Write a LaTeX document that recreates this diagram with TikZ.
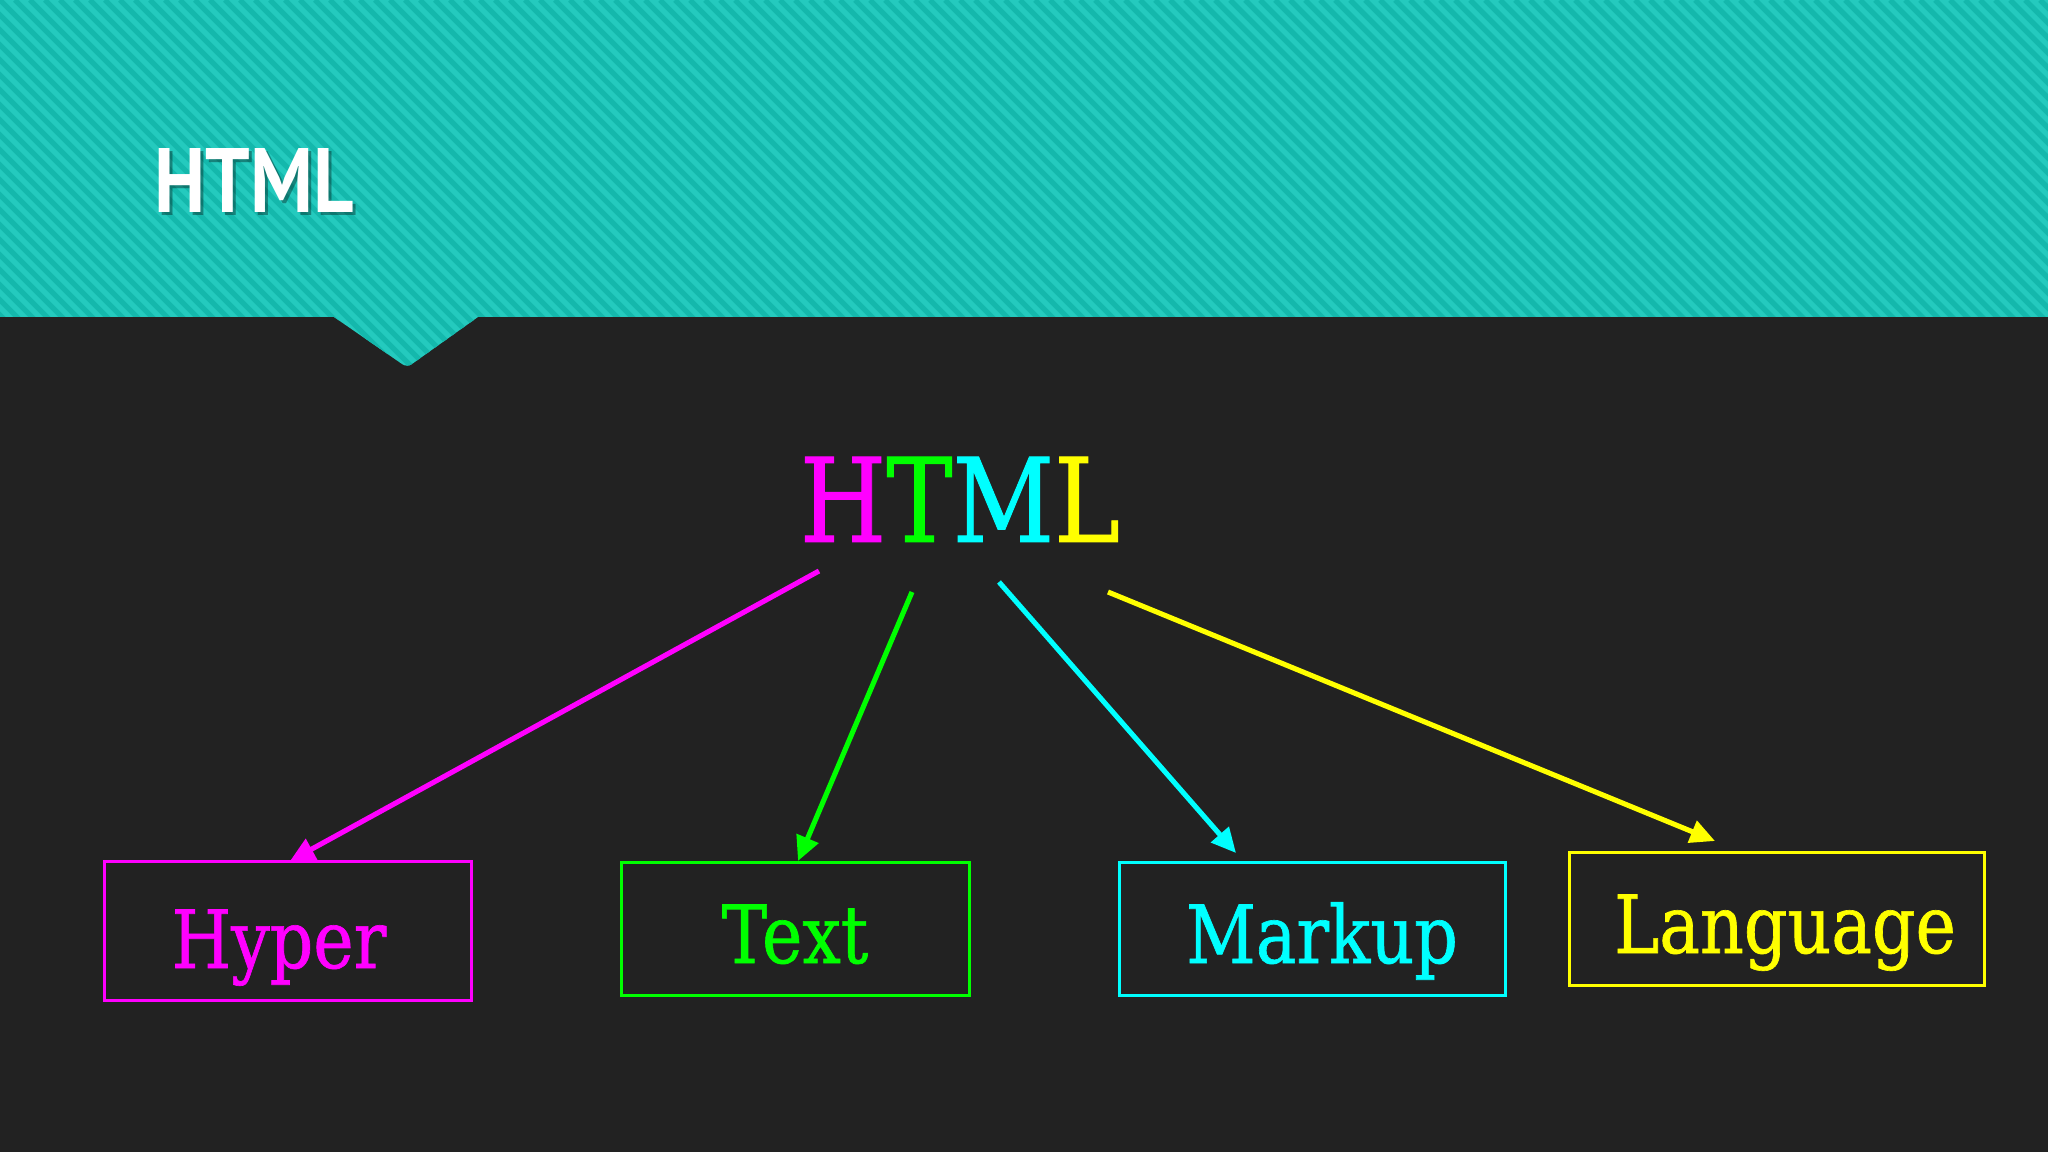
\documentclass[tikz,border=0pt]{standalone}
\usepackage{fontspec}
\setmainfont{DejaVu Serif}[FakeStretch=0.85,FakeBold=0.8]
\newfontfamily\titlefont{PT Sans}[FakeStretch=0.86]
\usetikzlibrary{arrows.meta,calc}
\definecolor{bg}{HTML}{222222}
\definecolor{teal1}{HTML}{24CABE}
\definecolor{teal2}{HTML}{14B8AC}
\definecolor{cmag}{HTML}{FF00FF}
\definecolor{cgrn}{HTML}{00FF00}
\definecolor{ccyn}{HTML}{00FFFF}
\definecolor{cyel}{HTML}{FFFF00}
\tikzset{
  wordbox/.style={draw=#1, line width=0.85pt, rectangle, inner sep=0pt},
  word/.style={text=#1, font=\fontsize{22.8}{26}\selectfont, anchor=base, inner sep=0pt},
  conn/.style={draw=#1, line width=1.45pt, -{Triangle[length=7pt,width=6.5pt]}, shorten >=0pt},
}
\begin{document}
\begin{tikzpicture}[x=0.01cm,y=-0.01cm]
\useasboundingbox (0,0) rectangle (2048,1152);
\fill[bg] (0,0) rectangle (2048,1152);
% header
\path[fill=teal1] (0,0) -- (2048,0) -- (2048,317) -- (478,317) -- (412,364) to[out=215,in=325] (402,364) -- (334,317) -- (0,317) -- cycle;
\begin{scope}
\clip (0,0) -- (2048,0) -- (2048,317) -- (478,317) -- (412,364) to[out=215,in=325] (402,364) -- (334,317) -- (0,317) -- cycle;
\foreach \i in {-420,-405,...,2060} {
  \draw[teal2, line width=1.5pt] (\i,0) -- (\i+420,420);
}
\end{scope}
% title
\node[anchor=base west, inner sep=0pt, text=black, opacity=0.35, font=\titlefont\bfseries\fontsize{26}{28}\selectfont] (titleshadow) at (157,216) {HTML};
\node[anchor=base west, inner sep=0pt, text=white, font=\titlefont\bfseries\fontsize{26}{28}\selectfont] (title) at (154,213) {HTML};
% big word
\node[anchor=base, inner sep=0pt, font=\fontsize{33.2}{36}\selectfont] (big) at (960,542) {\textcolor{cmag}{H}\textcolor{cgrn}{T}\textcolor{ccyn}{M}\textcolor{cyel}{L}};
% boxes
\node[wordbox=cmag, minimum width=3.66cm, minimum height=1.38cm] (hbox) at (288,931) {};
\node[wordbox=cgrn, minimum width=3.47cm, minimum height=1.33cm] (tbox) at (795.5,929) {};
\node[wordbox=ccyn, minimum width=3.85cm, minimum height=1.33cm] (mbox) at (1312.5,929) {};
\node[wordbox=cyel, minimum width=4.14cm, minimum height=1.33cm] (lbox) at (1777,919) {};
% words
\node[word=cmag] (hyper) at (279,968) {Hyper};
\node[word=cgrn] (text) at (795,963) {Text};
\node[word=ccyn] (markup) at (1322,963) {Markup};
\node[word=cyel] (language) at (1785,953) {Language};
% connector start/end points
\coordinate (s1) at (819,571);
\coordinate (s2) at (912,592);
\coordinate (s3) at (999,582);
\coordinate (s4) at (1108,592);
\coordinate (e1) at (290,861);
\coordinate (e2) at (798,861);
\coordinate (e3) at (1236,853);
\coordinate (e4) at (1715,841);
\draw[conn=cmag] (s1) -- (e1);
\draw[conn=cgrn] (s2) -- (e2);
\draw[conn=ccyn] (s3) -- (e3);
\draw[conn=cyel] (s4) -- (e4);
\end{tikzpicture}
\end{document}
